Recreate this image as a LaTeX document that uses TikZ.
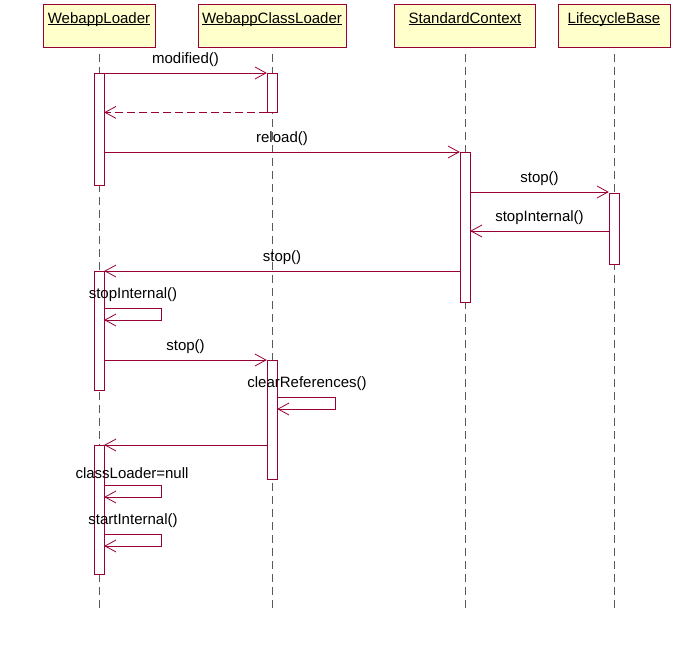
\documentclass[tikz,border=0pt]{standalone}
\usepackage{fontspec}
\setmainfont{Liberation Sans}
\usetikzlibrary{arrows.meta}

\definecolor{rose}{RGB}{153,0,51}
\definecolor{note}{RGB}{255,255,204}
\newcommand\objname[1]{\setbox0\hbox{#1}\rlap{\copy0}\rule[-1.8pt]{\wd0}{0.8pt}}
\tikzset{
  obj/.style={draw=rose,fill=note,anchor=north,inner xsep=0pt,inner ysep=7pt,
              text height=12pt,text depth=17pt,font=\fontsize{15}{18}\selectfont},
  life/.style={draw=black!65,line width=1pt,dash pattern=on 8pt off 5pt},
  act/.style={draw=rose,fill=white,anchor=north,minimum width=10pt,inner sep=0pt},
  msg/.style={draw=rose,line width=0.8pt,-{Straight Barb[length=11pt,width=12pt]}},
  ret/.style={msg,dash pattern=on 8pt off 4pt},
  lbl/.style={font=\fontsize{15}{18}\selectfont,inner sep=0pt,above=6pt}
}

\begin{document}
\begin{tikzpicture}[x=1pt,y=-1pt]
\useasboundingbox (0,0) rectangle (695,651);

\node[obj,minimum width=112pt] (wl)  at (99,4)  {\objname{WebappLoader}};
\node[obj,minimum width=148pt] (wcl) at (272,4) {\objname{WebappClassLoader}};
\node[obj,minimum width=141pt] (sc)  at (465,4) {\objname{StandardContext}};
\node[obj,minimum width=112pt] (lb)  at (614,4) {\objname{LifecycleBase}};

\foreach \o in {wl,wcl,sc,lb}
  \draw[life] (\o.south) ++(0,7) -- (\o.south |- 0,608);

\node[act,minimum height=112pt] (wl1)  at (99,73)   {};
\node[act,minimum height=39pt]  (wcl1) at (272,73)  {};
\node[act,minimum height=150pt] (sc1)  at (465,152) {};
\node[act,minimum height=71pt]  (lb1)  at (614,193) {};
\node[act,minimum height=119pt] (wl2)  at (99,271)  {};
\node[act,minimum height=119pt] (wcl2) at (272,360) {};
\node[act,minimum height=129pt] (wl3)  at (99,445)  {};

\draw[msg] (wl1.north east) -- node[lbl] {modified()} (wcl1.north west);
\draw[ret] (wcl1.south west) -- (wl1.east |- wcl1.south);
\draw[msg] (wl1.east |- sc1.north) -- node[lbl] {reload()} (sc1.north west);
\draw[msg] (sc1.east |- 0,192) -- node[lbl] {stop()} (lb1.west |- 0,192);
\draw[msg] (lb1.west |- 0,231) -- node[lbl] {stopInternal()} (sc1.east |- 0,231);
\draw[msg] (sc1.west |- wl2.north) -- node[lbl] {stop()} (wl2.north east);

\node[lbl] (si) at (133,308) {stopInternal()};
\draw[msg] (wl2.east |- 0,308) -- ++(57,0) -- ++(0,12) -- ++(-57,0);

\draw[msg] (wl2.east |- wcl2.north) -- node[lbl] {stop()} (wcl2.north west);

\node[lbl] (cr) at (307,397) {clearReferences()};
\draw[msg] (wcl2.east |- 0,397) -- ++(58,0) -- ++(0,12) -- ++(-58,0);

\draw[msg] (wcl2.west |- wl3.north) -- (wl3.north east);

\node[lbl] (cn) at (132,485) {classLoader=null};
\draw[msg] (wl3.east |- 0,485) -- ++(57,0) -- ++(0,12) -- ++(-57,0);
\node[lbl] (st) at (133,534) {startInternal()};
\draw[msg] (wl3.east |- 0,534) -- ++(57,0) -- ++(0,12) -- ++(-57,0);
\end{tikzpicture}
\end{document}
